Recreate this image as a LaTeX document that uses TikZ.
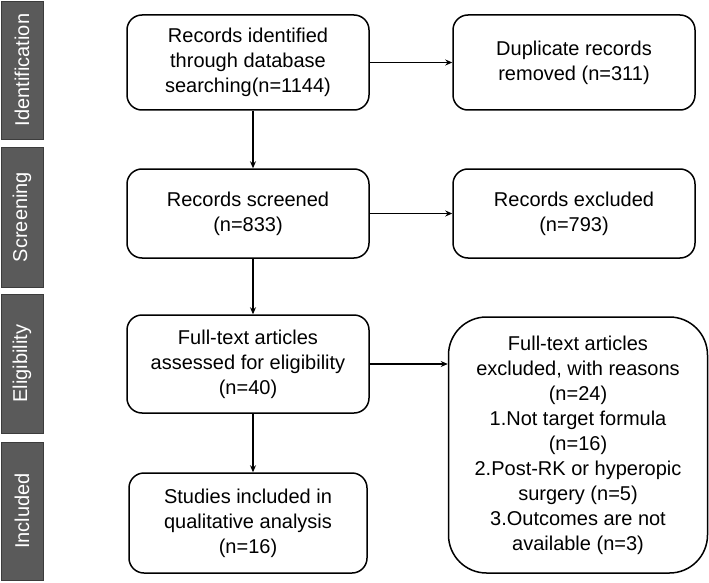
\documentclass[tikz,border=0pt]{standalone}
\usepackage{fontspec}
\setmainfont{Liberation Sans}
\usetikzlibrary{arrows.meta}
\definecolor{barfill}{HTML}{5A5A5A}
\definecolor{baredge}{HTML}{3C3C3C}
\begin{document}
\begin{tikzpicture}[x=1pt,y=1pt,
  box/.style={draw=black, line width=1.5pt, rounded corners=15pt, align=center,
    inner sep=0pt, font=\fontsize{20}{25}\selectfont},
  bigbox/.style={box, rounded corners=38pt},
  phase/.style={fill=barfill, draw=baredge, line width=0.8pt, minimum width=42pt,
    inner sep=0pt, text=white, font=\fontsize{20}{25}\selectfont},
  arr/.style={line width=1.2pt, -{Stealth[length=7pt,width=6pt]}}]
\useasboundingbox (0,0) rectangle (709,-583);
% phase bars
\node[phase, minimum height=138pt] (p1) at (22,-70) {};
\node[rotate=90, text=white, font=\fontsize{20}{25}\selectfont] (t1) at (p1.center) {Identification};
\node[phase, minimum height=140pt] (p2) at (22,-217) {};
\node[rotate=90, text=white, font=\fontsize{20}{25}\selectfont] (t2) at (p2.center) {Screening};
\node[phase, minimum height=139pt] (p3) at (22,-363.5) {};
\node[rotate=90, text=white, font=\fontsize{20}{25}\selectfont] (t3) at (p3.center) {Eligibility};
\node[phase, minimum height=138pt] (p4) at (22,-511) {};
\node[rotate=90, text=white, font=\fontsize{20}{25}\selectfont] (t4) at (p4.center) {Included};
% boxes
\node[box, minimum width=242pt, minimum height=95pt] (b1) at (248,-62.5)
  {Records identified\\through database\\searching(n=1144)};
\node[box, minimum width=242pt, minimum height=95pt] (b2) at (574,-62.5)
  {Duplicate records\\removed (n=311)};
\node[box, minimum width=242pt, minimum height=89pt] (b3) at (248,-213.5)
  {Records screened\\(n=833)};
\node[box, minimum width=242pt, minimum height=89pt] (b4) at (574,-213.5)
  {Records excluded\\(n=793)};
\node[box, minimum width=242pt, minimum height=98pt] (b5) at (248,-364)
  {Full-text articles\\assessed for eligibility\\(n=40)};
\node[bigbox, minimum width=259pt, minimum height=256pt] (b6) at (578,-445)
  {Full-text articles\\excluded, with reasons\\(n=24)\\1.Not target formula\\(n=16)\\2.Post-RK or hyperopic\\surgery (n=5)\\3.Outcomes are not\\available (n=3)};
\node[box, minimum width=238pt, minimum height=100pt] (b7) at (248,-523)
  {Studies included in\\qualitative analysis\\(n=16)};
% connectors
\draw[arr] (b1.east) -- (b2.west);
\draw[arr] (b3.east) -- (b4.west);
\draw[arr] (b5.east) -- (b5.east -| b6.west);
\draw[arr] ([xshift=5pt]b1.south) -- ([xshift=5pt]b3.north);
\draw[arr] ([xshift=5pt]b3.south) -- ([xshift=5pt]b5.north);
\draw[arr] ([xshift=5pt]b5.south) -- ([xshift=5pt]b7.north);
\end{tikzpicture}
\end{document}
